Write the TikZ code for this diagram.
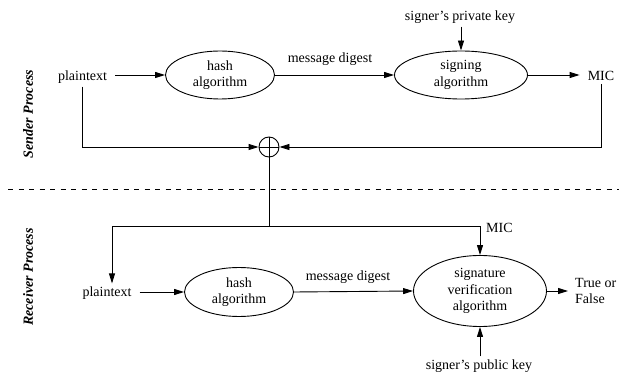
\documentclass[tikz,border=0pt]{standalone}
\usepackage{fontspec}
\setmainfont{Liberation Serif}
\usetikzlibrary{arrows.meta, positioning, shapes.geometric}

\begin{document}
\begin{tikzpicture}[
  x=1pt, y=-1pt,
  every node/.style={font=\fontsize{14}{16.5}\selectfont},
  algo/.style={draw, ellipse, inner sep=0pt, align=center, line width=0.9pt},
  txt/.style={inner xsep=8pt, inner ysep=3pt},
  side/.style={rotate=90, font=\fontsize{14}{16.5}\selectfont\bfseries\itshape},
  arrow/.style={-{Triangle[length=10pt, width=6pt]}, line width=0.9pt},
  conn/.style={line width=0.9pt}
]
\useasboundingbox (0,0) rectangle (619,374);

% Side labels
\node[side] (sender) at (28,114) {Sender Process};
\node[side] (receiver) at (28,277) {Receiver Process};

% Sender row
\node[txt] (plain1) at (82.5,77) {plaintext};
\node[algo, minimum width=109pt, minimum height=48pt] (hash1) at (220,75) {hash\\algorithm};
\node[algo, minimum width=133pt, minimum height=48pt] (sign) at (461,75) {signing\\algorithm};
\node[txt] (digest1) at (330,59) {message digest};
\node[txt] (privkey) at (460,17) {signer's private key};
\node[txt] (mic1) at (601,76) {MIC};

% XOR junction
\node[draw, circle, minimum size=20pt, inner sep=0pt, line width=0.9pt] (xor) at (269,147) {};
\coordinate (split) at (269,226);

% Separator
\draw[dash pattern=on 5pt off 5.5pt, line width=0.9pt] (8,189) -- (619,189);

% Receiver row
\node[txt] (plain2) at (107,293) {plaintext};
\node[algo, minimum width=109pt, minimum height=49pt] (hash2) at (239,292) {hash\\algorithm};
\node[algo, minimum width=133pt, minimum height=71pt] (verify) at (480,291) {signature\\verification\\algorithm};
\node[txt] (digest2) at (348,277) {message digest};
\node[txt, anchor=west, inner xsep=0pt] (mic2) at (486,228) {MIC};
\node[txt, anchor=west, align=left, inner xsep=0pt] (result) at (575,291) {True or\\False};
\node[txt] (pubkey) at (479,366) {signer's public key};

% Arrows between elements
\draw[arrow] (plain1.east |- hash1.west) -- (hash1.west);
\draw[arrow] (hash1.east) -- (sign.west);
\draw[arrow] (privkey.south -| sign.north) -- (sign.north);
\draw[arrow] (sign.east) -- (sign.east -| mic1.west);
\draw[arrow] (plain1.south) |- (xor.west);
\draw[arrow] (mic1.south) |- (xor.east);
\draw[conn] (xor.west) -- (xor.east);
\draw[conn] (xor.north) -- (split);
\draw[arrow] (split) -| ([xshift=5pt]plain2.north);
\draw[arrow] (split) -| (verify.north);
\draw[arrow] (plain2.east |- hash2.west) -- (hash2.west);
\draw[arrow] (hash2.east) -- (verify.west);
\draw[arrow] (verify.east) -- ([xshift=-7pt]verify.east -| result.west);
\draw[arrow] (pubkey.north -| verify.south) -- (verify.south);

\end{tikzpicture}
\end{document}
